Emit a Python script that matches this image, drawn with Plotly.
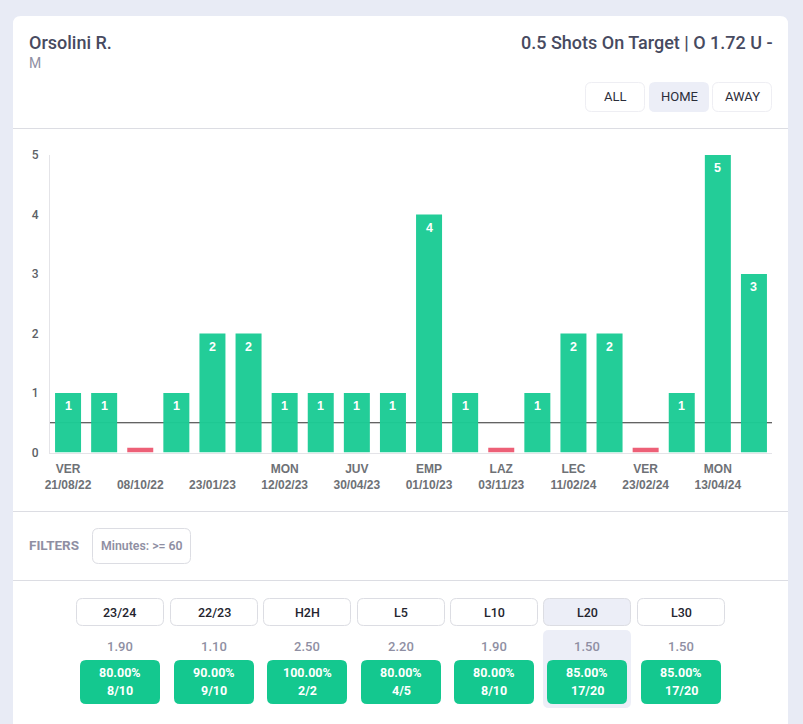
import plotly.graph_objects as go

W = 803
H = 724

# per match shots on target, home games
shots = [1, 1, 0, 1, 2, 2, 1, 1, 1, 1, 4, 1, 0, 1, 2, 2, 0, 1, 5, 3]
line_value = 0.5
zero_stub = 0.08

tick_pos = [0, 2, 4, 6, 8, 10, 12, 14, 16, 18]
tick_opp = ["VER", "", "", "MON", "JUV", "EMP", "LAZ", "LEC", "VER", "MON"]
tick_dates = ["21/08/22", "08/10/22", "23/01/23", "12/02/23", "30/04/23",
              "01/10/23", "03/11/23", "11/02/24", "23/02/24", "13/04/24"]

# table under the chart
periods = ["23/24", "22/23", "H2H", "L5", "L10", "L20", "L30"]
averages = ["1.90", "1.10", "2.50", "2.20", "1.90", "1.50", "1.50"]
percents = ["80.00%", "90.00%", "100.00%", "80.00%", "80.00%", "85.00%", "85.00%"]
hits = ["8/10", "9/10", "2/2", "4/5", "8/10", "17/20", "17/20"]
period_left = [76, 170, 263, 357, 450, 543, 637]

GREEN = "#1ccb95"
RED = "#ec5b73"
BOX_GREEN = "#14c88f"
PALE = "#eceef7"
BORDER = "#dcdde3"
DARK = "#474a60"
MUTED = "#8f8fa3"


def px(x):
    return x / W


def py(y):
    return 1 - y / H


def rounded(x0, y0, x1, y1, r=6):
    # rounded rectangle given in page pixels
    pts = [("M", x0 + r, y0), ("L", x1 - r, y0), ("Q", x1, y0, x1, y0 + r),
           ("L", x1, y1 - r), ("Q", x1, y1, x1 - r, y1), ("L", x0 + r, y1),
           ("Q", x0, y1, x0, y1 - r), ("L", x0, y0 + r), ("Q", x0, y0, x0 + r, y0)]
    out = []
    for p in pts:
        coords = []
        for i in range(1, len(p), 2):
            coords.append(f"{px(p[i]):.5f},{py(p[i + 1]):.5f}")
        out.append(p[0] + " " + " ".join(coords))
    return " ".join(out) + " Z"


def box(x0, y0, x1, y1, fill, line=None, r=6):
    return dict(type="path", path=rounded(x0, y0, x1, y1, r), xref="paper", yref="paper",
                fillcolor=fill, line=dict(color=line or fill, width=1 if line else 0),
                layer="below")


def divider(y):
    return dict(type="line", xref="paper", yref="paper", x0=px(13), x1=px(788), y0=py(y), y1=py(y),
                line=dict(color=BORDER, width=1), layer="below")


def label(x, y, text, size, color, anchor="center", weight=400, family="Roboto"):
    return dict(x=px(x), y=py(y), xref="paper", yref="paper", text=text, showarrow=False,
                xanchor=anchor, yanchor="middle", align="center",
                font=dict(size=size, color=color, family=family, weight=weight))


shapes = [box(13, 16, 788, 760, "white", r=8), divider(128.5), divider(511.5), divider(580.5)]
shapes.append(box(585.5, 82.5, 644.5, 111.5, "white", "#eeeef3"))
shapes.append(box(649, 82, 709, 112, PALE))
shapes.append(box(712.5, 82.5, 771.5, 111.5, "white", "#eeeef3"))
shapes.append(box(92.5, 528.5, 190.5, 563.5, "white", BORDER))

annotations = [
    label(27, 42, "Orsolini R.", 18, DARK, "left", 500),
    label(27, 63, "M", 14, MUTED, "left"),
    label(775, 42, "0.5 Shots On Target | O 1.72 U -", 18, DARK, "right", 500),
    label(615, 97, "ALL", 13, "#2b2d3a"),
    label(679, 97, "HOME", 13, "#2b2d3a"),
    label(742, 97, "AWAY", 13, "#2b2d3a"),
    label(27, 545, "FILTERS", 13.5, MUTED, "left", 700),
    label(141.5, 546, "Minutes: &gt;= 60", 12.3, MUTED, weight=600),
]

for i, name in enumerate(periods):
    left = period_left[i]
    fill = PALE if name == "L20" else "white"
    if name == "L20":
        shapes.append(box(543, 630, 631, 708, PALE))
    shapes.append(box(left + 0.5, 598.5, left + 87.5, 625.5, fill, BORDER))
    shapes.append(box(left + 4, 660, left + 84, 704, BOX_GREEN))
    center = left + 44
    annotations.append(label(center, 612, name, 12.5, "#23242e", weight=500))
    annotations.append(label(center, 646, averages[i], 13, MUTED, weight=500))
    annotations.append(label(center, 672.5, percents[i], 12.5, "white", weight=700))
    annotations.append(label(center, 690.5, hits[i], 12.5, "white", weight=700))

# bar values sit a bit under the top of each bar
for i, v in enumerate(shots):
    if v > 0:
        annotations.append(dict(x=i, y=v, xref="x", yref="y", text=str(v), showarrow=False,
                                yanchor="middle", yshift=-13,
                                font=dict(size=12.5, color="white", family="Liberation Sans", weight=700)))

# threshold line sits behind the bars
shapes.append(dict(type="line", xref="x", yref="y", x0=-0.5, x1=19.5, y0=line_value, y1=line_value,
                   line=dict(color="#2f2f2f", width=1), layer="below"))

heights = [v if v > 0 else zero_stub for v in shots]
colors = [GREEN if v > 0 else RED for v in shots]
tick_text = [f"{o or '&nbsp;'}<br>{d}" for o, d in zip(tick_opp, tick_dates)]

fig = go.Figure()
fig.add_trace(go.Bar(x=list(range(len(shots))), y=heights, width=0.72,
                     marker=dict(color=colors, opacity=0.97, line=dict(width=0)),
                     hoverinfo="skip"))

fig.update_layout(
    width=W,
    height=H,
    autosize=False,
    showlegend=False,
    paper_bgcolor="#e8ebf5",
    plot_bgcolor="rgba(0,0,0,0)",
    margin=dict(l=0, r=0, t=0, b=0),
    shapes=shapes,
    annotations=annotations,
    xaxis=dict(automargin=False, domain=[px(50), px(772)], range=[-0.5, 19.5], tickmode="array",
               tickvals=tick_pos, ticktext=tick_text, tickangle=0, showgrid=False, zeroline=False,
               showline=True, linecolor="#e4e4e8", linewidth=1, ticks="outside", ticklen=5,
               tickcolor="rgba(0,0,0,0)",
               tickfont=dict(size=12, color="#6e7176", family="Liberation Sans", weight=600)),
    yaxis=dict(automargin=False, domain=[py(452.5), py(155)], range=[0, 5], tickmode="array",
               tickvals=[0, 1, 2, 3, 4, 5], showgrid=False, zeroline=False, showline=True,
               linecolor="#e4e4e8", linewidth=1, ticks="outside", ticklen=8, tickcolor="rgba(0,0,0,0)",
               tickfont=dict(size=12, color="#5c5f66", family="Roboto", weight=500)),
)

# page default body margin would push the figure 8px in
fig.write_html("out.html", config=dict(displayModeBar=False),
               post_script="document.body.style.margin='0';document.body.style.overflow='hidden';")
